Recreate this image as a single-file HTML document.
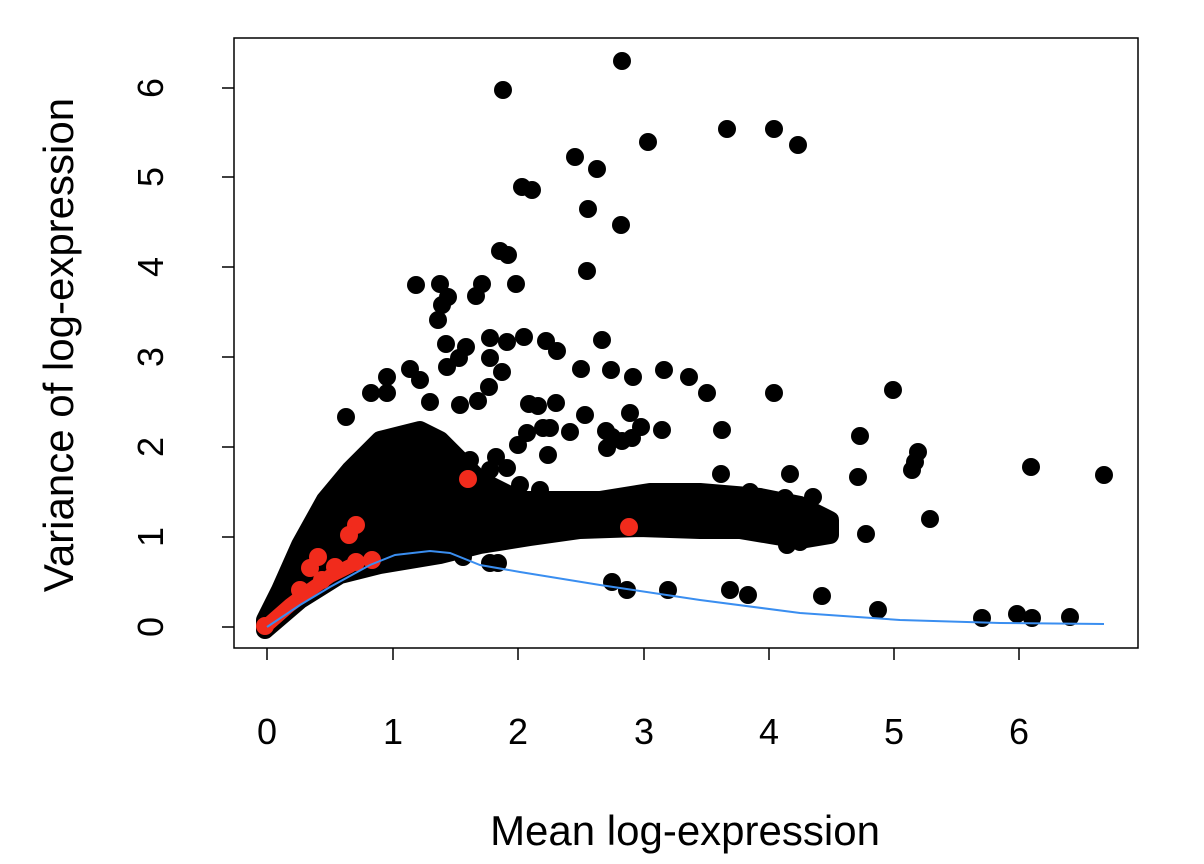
<!DOCTYPE html>
<html><head><style>body{margin:0;background:#fff}svg{display:block}</style></head><body>
<svg width="1204" height="864" xmlns="http://www.w3.org/2000/svg" font-family="Liberation Sans, sans-serif">
<rect width="1204" height="864" fill="#fff"/>
<g fill="#000">
<path d="M265,630 L300,600 340,575 380,565 410,560 440,555 480,545 530,537 580,530 640,528 700,530 740,530 770,535 800,540 830,535 830,520 800,505 760,497 700,492 650,492 600,500 560,500 520,500 480,480 460,460 440,440 420,430 400,435 380,440 350,470 325,500 300,545 280,590 265,620 Z" stroke="#000" stroke-width="18" stroke-linejoin="round"/>
<g>
<circle cx="622" cy="61" r="9"/><circle cx="503" cy="90" r="9"/><circle cx="774" cy="129" r="9"/><circle cx="727" cy="129" r="9"/><circle cx="648" cy="142" r="9"/><circle cx="798" cy="145" r="9"/><circle cx="575" cy="157" r="9"/><circle cx="597" cy="169" r="9"/><circle cx="522" cy="187" r="9"/><circle cx="532" cy="190" r="9"/><circle cx="588" cy="209" r="9"/><circle cx="621" cy="225" r="9"/><circle cx="587" cy="271" r="9"/><circle cx="500" cy="251" r="9"/><circle cx="508" cy="255" r="9"/><circle cx="516" cy="284" r="9"/><circle cx="476" cy="296" r="9"/><circle cx="440" cy="284" r="9"/><circle cx="442" cy="305" r="9"/><circle cx="438" cy="320" r="9"/><circle cx="446" cy="344" r="9"/><circle cx="524" cy="337" r="9"/><circle cx="546" cy="341" r="9"/><circle cx="602" cy="340" r="9"/><circle cx="664" cy="370" r="9"/><circle cx="689" cy="377" r="9"/><circle cx="490" cy="358" r="9"/><circle cx="466" cy="347" r="9"/><circle cx="447" cy="367" r="9"/><circle cx="387" cy="393" r="9"/><circle cx="346" cy="417" r="9"/><circle cx="371" cy="393" r="9"/><circle cx="387" cy="377" r="9"/><circle cx="410" cy="369" r="9"/><circle cx="416" cy="285" r="9"/><circle cx="448" cy="297" r="9"/><circle cx="482" cy="284" r="9"/><circle cx="490" cy="338" r="9"/><circle cx="507" cy="342" r="9"/><circle cx="557" cy="351" r="9"/><circle cx="581" cy="369" r="9"/><circle cx="611" cy="370" r="9"/><circle cx="633" cy="377" r="9"/><circle cx="707" cy="393" r="9"/><circle cx="662" cy="430" r="9"/><circle cx="721" cy="474" r="9"/><circle cx="585" cy="415" r="9"/><circle cx="527" cy="433" r="9"/><circle cx="550" cy="428" r="9"/><circle cx="502" cy="372" r="9"/><circle cx="489" cy="387" r="9"/><circle cx="478" cy="401" r="9"/><circle cx="460" cy="405" r="9"/><circle cx="430" cy="402" r="9"/><circle cx="420" cy="380" r="9"/><circle cx="459" cy="358" r="9"/><circle cx="612" cy="582" r="9"/><circle cx="627" cy="590" r="9"/><circle cx="668" cy="590" r="9"/><circle cx="748" cy="595" r="9"/><circle cx="463" cy="557" r="9"/><circle cx="498" cy="563" r="9"/><circle cx="490" cy="563" r="9"/><circle cx="730" cy="590" r="9"/>
<circle cx="893" cy="390" r="9"/><circle cx="774" cy="393" r="9"/><circle cx="860" cy="436" r="9"/><circle cx="722" cy="430" r="9"/><circle cx="915" cy="462" r="9"/><circle cx="912" cy="470" r="9"/><circle cx="918" cy="452" r="9"/><circle cx="1031" cy="467" r="9"/><circle cx="1104" cy="475" r="9"/><circle cx="790" cy="474" r="9"/><circle cx="858" cy="477" r="9"/><circle cx="930" cy="519" r="9"/><circle cx="866" cy="534" r="9"/><circle cx="822" cy="596" r="9"/><circle cx="878" cy="610" r="9"/><circle cx="982" cy="618" r="9"/><circle cx="1017" cy="614" r="9"/><circle cx="1032" cy="618" r="9"/><circle cx="1070" cy="617" r="9"/>
<circle cx="785" cy="498" r="9"/><circle cx="813" cy="497" r="9"/><circle cx="820" cy="517" r="9"/><circle cx="825" cy="532" r="9"/><circle cx="790" cy="520" r="9"/><circle cx="787" cy="545" r="9"/><circle cx="800" cy="542" r="9"/>
<circle cx="529" cy="404" r="9"/><circle cx="538" cy="406" r="9"/><circle cx="543" cy="428" r="9"/><circle cx="556" cy="403" r="9"/><circle cx="570" cy="432" r="9"/><circle cx="606" cy="431" r="9"/><circle cx="612" cy="437" r="9"/><circle cx="622" cy="441" r="9"/><circle cx="632" cy="438" r="9"/><circle cx="641" cy="427" r="9"/><circle cx="630" cy="413" r="9"/><circle cx="607" cy="448" r="9"/><circle cx="548" cy="455" r="9"/><circle cx="518" cy="445" r="9"/><circle cx="507" cy="468" r="9"/><circle cx="496" cy="457" r="9"/><circle cx="490" cy="470" r="9"/><circle cx="470" cy="460" r="9"/><circle cx="520" cy="485" r="9"/><circle cx="540" cy="490" r="9"/><circle cx="660" cy="495" r="9"/><circle cx="690" cy="493" r="9"/><circle cx="750" cy="492" r="9"/>
</g></g>
<path d="M265,627 L290,605 310,590 330,576 350,566" stroke="#f12b1c" stroke-width="14" fill="none" stroke-linecap="round"/>
<g fill="#f12b1c">
<circle cx="468" cy="479" r="9"/><circle cx="629" cy="527" r="9"/><circle cx="356" cy="525" r="9"/><circle cx="349" cy="535" r="9"/><circle cx="318" cy="557" r="9"/><circle cx="310" cy="568" r="9"/><circle cx="335" cy="567" r="9"/><circle cx="356" cy="562" r="9"/><circle cx="322" cy="580" r="9"/><circle cx="300" cy="590" r="9"/><circle cx="265" cy="626" r="9"/><circle cx="372" cy="560" r="9"/>
</g>
<polyline points="267,627 300,605 330,587 370,565 395,555 430,551 450,553 480,565 520,572 600,585 700,600 800,613 900,620 1000,623 1104,624" fill="none" stroke="#3a8ef0" stroke-width="2"/>
<rect x="234" y="38" width="904" height="610" fill="none" stroke="#000" stroke-width="1.5"/>
<g stroke="#000" stroke-width="1.5">
<line x1="267" y1="648" x2="267" y2="660"/><line x1="393" y1="648" x2="393" y2="660"/><line x1="518" y1="648" x2="518" y2="660"/><line x1="644" y1="648" x2="644" y2="660"/><line x1="769" y1="648" x2="769" y2="660"/><line x1="894" y1="648" x2="894" y2="660"/><line x1="1019" y1="648" x2="1019" y2="660"/>
<line x1="222" y1="627" x2="234" y2="627"/><line x1="222" y1="537" x2="234" y2="537"/><line x1="222" y1="447" x2="234" y2="447"/><line x1="222" y1="357" x2="234" y2="357"/><line x1="222" y1="267" x2="234" y2="267"/><line x1="222" y1="177" x2="234" y2="177"/><line x1="222" y1="88" x2="234" y2="88"/>
</g>
<g font-size="36" text-anchor="middle" fill="#000">
<text x="267" y="744">0</text><text x="393" y="744">1</text><text x="518" y="744">2</text><text x="644" y="744">3</text><text x="769" y="744">4</text><text x="894" y="744">5</text><text x="1019" y="744">6</text>
<g transform="translate(163,0)">
<text transform="translate(0,627) rotate(-90)">0</text><text transform="translate(0,537) rotate(-90)">1</text><text transform="translate(0,447) rotate(-90)">2</text><text transform="translate(0,357) rotate(-90)">3</text><text transform="translate(0,267) rotate(-90)">4</text><text transform="translate(0,177) rotate(-90)">5</text><text transform="translate(0,88) rotate(-90)">6</text>
</g>
<text x="685" y="845" font-size="42">Mean log-expression</text>
<text transform="translate(73,345) rotate(-90)" font-size="42">Variance of log-expression</text>
</g>
</svg>
</body></html>
